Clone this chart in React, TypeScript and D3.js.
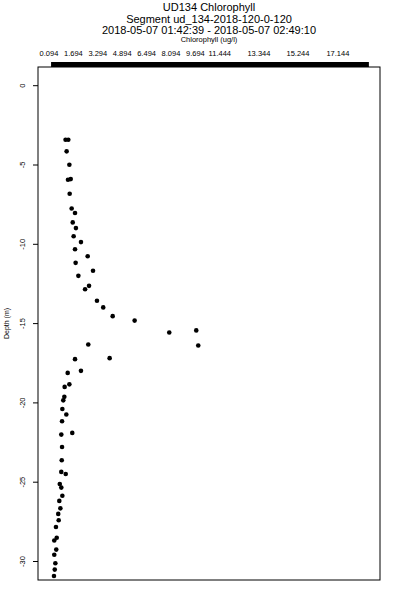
import React from "react";
import * as d3 from "d3";

// chlorophyll (ug/l) and depth (m)
const chlorophyll = [
  1.18, 1.36, 1.25, 1.43, 1.34, 1.52, 1.45, 1.58, 1.8, 1.65, 1.86, 1.71, 2.19,
  1.8, 2.63, 1.84, 2.98, 2.02, 2.72, 2.46, 3.24, 3.65, 4.27, 5.71, 7.98, 9.75,
  9.88, 2.67, 4.07, 1.8, 2.19, 1.32, 1.43, 1.12, 1.1, 1.03, 0.97, 1.23, 0.95,
  1.62, 0.9, 0.95, 0.93, 0.9, 1.19, 0.8, 0.9, 0.97, 0.77, 0.84, 0.7, 0.73,
  0.55, 0.6, 0.44, 0.57, 0.44, 0.51, 0.47, 0.42,
];
const depth = [
  -3.41, -3.41, -4.14, -4.98, -5.93, -5.89, -6.81, -7.74, -8.03, -8.62, -8.98,
  -9.49, -9.86, -10.31, -10.75, -11.17, -11.67, -11.99, -12.62, -12.83, -13.56,
  -13.98, -14.53, -14.81, -15.56, -15.43, -16.38, -16.32, -17.18, -17.24,
  -17.98, -18.11, -18.83, -18.99, -19.62, -19.84, -20.38, -20.73, -21.16,
  -21.89, -22.0, -22.78, -23.62, -24.35, -24.48, -25.11, -25.34, -25.85,
  -26.18, -26.65, -27.0, -27.4, -27.82, -28.5, -28.68, -29.25, -29.57, -30.11,
  -30.51, -30.91,
];

const xTickValues = [0.094, 1.694, 3.294, 4.894, 6.494, 8.094, 9.694, 11.294, 13.86, 16.42, 19.04];
const xTickLabels = ["0.094", "1.694", "3.294", "4.894", "6.494", "8.094", "9.694", "11.444", "13.344", "15.244", "17.144"];
const yTicks = [0, -5, -10, -15, -20, -25, -30];

const titleLines = [
  "UD134 Chlorophyll",
  "Segment ud_134-2018-120-0-120",
  "2018-05-07 01:42:39 - 2018-05-07 02:49:10",
];

const W = 400;
const H = 600;
const box = { left: 38, right: 380, top: 67, bottom: 580 };

export default function App() {
  const x = d3.scaleLinear().domain([0.094, 1.694]).range([49, 73.4]);
  const y = d3.scaleLinear().domain([0, -5]).range([85.7, 165]);
  const font = "'Liberation Sans', Arial, sans-serif";
  const cx = (box.left + box.right) / 2;

  return (
    <svg
      width={W}
      height={H}
      style={{ position: "absolute", left: 0, top: 0, background: "#fff" }}
      fontFamily={font}
    >
      <rect width={W} height={H} fill="#fff" />
      {titleLines.map((t, i) => (
        <text key={t} x={cx} y={11 + i * 11.5} fontSize={11} textAnchor="middle">
          {t}
        </text>
      ))}
      <text x={cx} y={42} fontSize={7.5} textAnchor="middle">
        Chlorophyll (ug/l)
      </text>

      {/* top axis: labels and thick bar */}
      {xTickValues.map((v, i) => (
        <text key={i} x={x(v)} y={56} fontSize={7.5} textAnchor="middle">
          {xTickLabels[i]}
        </text>
      ))}
      <rect x={x(0.23)} y={62} width={x(21.07) - x(0.23)} height={5} fill="#000" />

      {/* plot box */}
      <rect
        x={box.left}
        y={box.top}
        width={box.right - box.left}
        height={box.bottom - box.top}
        fill="none"
        stroke="#000"
        strokeWidth={1}
      />

      {/* left axis */}
      {yTicks.map((t) => (
        <g key={t} transform={`translate(0,${y(t)})`}>
          <line x1={33} x2={box.left} stroke="#000" />
          <text
            transform={`translate(25,0) rotate(-90)`}
            fontSize={7.5}
            textAnchor="middle"
          >
            {t === 0 ? "0" : String(t)}
          </text>
        </g>
      ))}
      <text
        transform={`translate(9,${(box.top + box.bottom) / 2}) rotate(-90)`}
        fontSize={7}
        textAnchor="middle"
      >
        Depth (m)
      </text>

      {/* points */}
      {chlorophyll.map((c, i) => (
        <circle key={i} cx={x(c)} cy={y(depth[i])} r={2.3} fill="#000" />
      ))}
    </svg>
  );
}
